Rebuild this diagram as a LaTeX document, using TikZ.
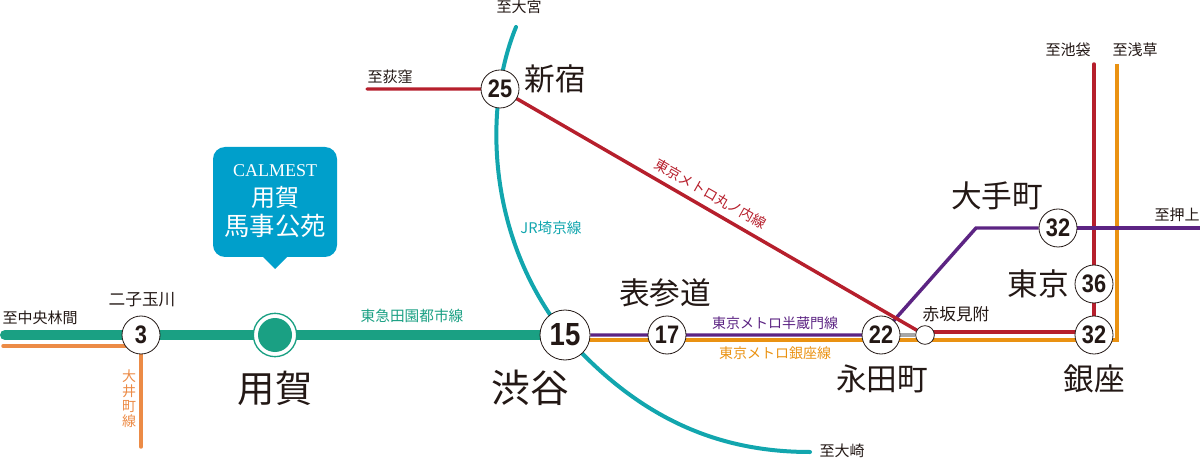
\documentclass[tikz,border=0pt]{standalone}
\usepackage{fontspec}
\usetikzlibrary{backgrounds}
\setmainfont{Noto Sans CJK JP}
\newfontfamily\latinfont{Liberation Serif}
\newfontfamily\numfont[FakeStretch=0.86]{Liberation Sans}
\newcommand\fsz[1]{\fontsize{#1}{#1}\selectfont}
\definecolor{inkc}{HTML}{231815}
\definecolor{greenc}{HTML}{1AA083}
\definecolor{oic}{HTML}{EC8B46}
\definecolor{tealc}{HTML}{12A6AE}
\definecolor{redc}{HTML}{B61F2C}
\definecolor{purplec}{HTML}{5C2483}
\definecolor{orangec}{HTML}{EA9212}
\definecolor{bluec}{HTML}{009FCB}
\tikzset{
  stn/.style={circle,draw=inkc,fill=white,line width=.6pt,inner sep=0pt,minimum size=28.5pt,text=inkc,font=\numfont\bfseries\fsz{19}},
  bigname/.style={text=inkc,inner sep=0pt,font=\fsz{23}},
  hugename/.style={text=inkc,inner sep=0pt,font=\fsz{28}},
  midname/.style={text=inkc,inner sep=0pt,font=\fsz{12.5}},
  dirname/.style={text=inkc,inner sep=0pt,font=\fsz{11.25}},
  linename/.style={inner sep=0pt,font=\fsz{10.5}},
  rail/.style={line width=2.6pt},
}
\begin{document}
\begin{tikzpicture}[x=.75pt,y=-.75pt]
	\useasboundingbox (0,0) rectangle (1201,459);
	
	% stations
	\node[stn] (futako) at (141,335) {3};
	\node[circle,fill=white,draw=greenc,line width=1pt,inner sep=0pt,minimum size=32.5pt] (yoga) at (275,335) {};
	\node[circle,fill=greenc,inner sep=0pt,minimum size=25.5pt] (yogain) at (275,335) {};
	\node[stn,minimum size=37.5pt,font=\numfont\bfseries\fsz{24}] (shibuya) at (565,335) {15};
	\node[stn] (omote) at (667,335) {17};
	\node[stn] (nagata) at (881,335) {22};
	\node[stn,minimum size=14pt] (akasaka) at (925,335) {};
	\node[stn] (ginza) at (1094,335) {32};
	\node[stn] (tokyo) at (1094,284) {36};
	\node[stn] (otemachi) at (1058,228) {32};
	\node[stn] (shinjuku) at (500,89) {25};
	
	% line ends
	\coordinate (endrinkan) at (5,335);
	\coordinate (endoiw) at (3,346);
	\coordinate (endoi) at (141,447);
	\coordinate (endomiya) at (516,27);
	\coordinate (endosaki) at (810,452);
	\coordinate (endogi) at (367,89);
	\coordinate (endikebu) at (1094,64);
	\coordinate (endasa) at (1117,64);
	\coordinate (endoshi) at (1200,228);
	\coordinate (kinkcho) at (976,228);
	
	\begin{scope}[on background layer]
		\draw[greenc,line width=7.5pt,line cap=round] (endrinkan) -- (shibuya);
		\draw[oic,rail,line cap=round] (endoiw) -- (endoiw -| futako);
		\draw[oic,rail,line cap=round] (futako) -- (endoi);
		\draw[tealc,line width=3pt,line cap=round] (endomiya) .. controls (484,105) and (485,235) .. (shibuya.center) .. controls (640,420) and (720,452) .. (endosaki);
		\draw[purplec,rail] (shibuya) -- (nagata.center) -- (kinkcho) -- (otemachi);
		\draw[orangec,rail] ([yshift=-3.6pt]shibuya.center) -- ([yshift=-3.6pt]ginza.center) -| (endasa);
		\draw[gray!70,rail] (nagata) -- (akasaka);
		\draw[redc,rail,line cap=round] (endogi) -- (shinjuku) -- (akasaka.center);
		\draw[redc,rail] ([yshift=2.2pt]akasaka.center) -- ([yshift=2.2pt]ginza.center);
		\draw[redc,rail,line cap=round] (endikebu) -- (ginza);
		\draw[purplec,rail] (otemachi) -- (endoshi);
	\end{scope}
	
	% callout
	\fill[bluec,rounded corners=9pt] (213,147) rectangle (337,257);
	\fill[bluec] (262,256) -- (275,269) -- (288,256) -- cycle;
	\node[text=white,inner sep=0pt,font=\latinfont\fsz{13.5}] (brand) at (275,171) {CALMEST};
	\node[text=white,inner sep=0pt,font=\fsz{18}] (brandi) at (275,197) {用賀};
	\node[text=white,inner sep=0pt,font=\fsz{19}] (brandii) at (275,226) {馬事公苑};
	
	% station names
	\node[hugename] (yogalbl) at (275,388) {用賀};
	\node[hugename,font=\fsz{29}] (shibulbl) at (530,388) {渋谷};
	\node[bigname] (omotelbl) at (665,293) {表参道};
	\node[bigname] (nagatalbl) at (882,379) {永田町};
	\node[bigname] (ginzalbl) at (1094,379) {銀座};
	\node[bigname] (tokyolbl) at (1038,284) {東京};
	\node[bigname] (otelbl) at (997,196) {大手町};
	\node[bigname] (shinlbl) at (555,79) {新宿};
	\node[midname] (futakolbl) at (142,300) {二子玉川};
	\node[midname] (akalbl) at (956,314) {赤坂見附};
	
	% directions
	\node[dirname] (dirrin) at (40,318) {至中央林間};
	\node[dirname] (dirogi) at (390,77) {至荻窪};
	\node[dirname] (diromi) at (519,7) {至大宮};
	\node[dirname] (dirosa) at (842,451) {至大崎};
	\node[dirname] (dirike) at (1068,50) {至池袋};
	\node[dirname] (dirasa) at (1135,50) {至浅草};
	\node[dirname] (diroshi) at (1177,215) {至押上};
	
	% line names
	\node[linename,text=greenc,font=\fsz{11}] (lblden) at (412,316) {東急田園都市線};
	\node[linename,text=oic,align=center,font=\fontsize{10.5}{11.2}\selectfont] (lbloi) at (129,399) {大\\井\\町\\線};
	\node[linename,text=tealc,font=\fsz{11}] (lbljr) at (551,228) {JR埼京線};
	\node[linename,text=purplec] (lblhan) at (775,323) {東京メトロ半蔵門線};
	\node[linename,text=orangec] (lblgin) at (775,353) {東京メトロ銀座線};
	\node[linename,text=redc,rotate=-29.6] (lblmaru) at (711,194) {東京メトロ丸ノ内線};
\end{tikzpicture}
\end{document}
